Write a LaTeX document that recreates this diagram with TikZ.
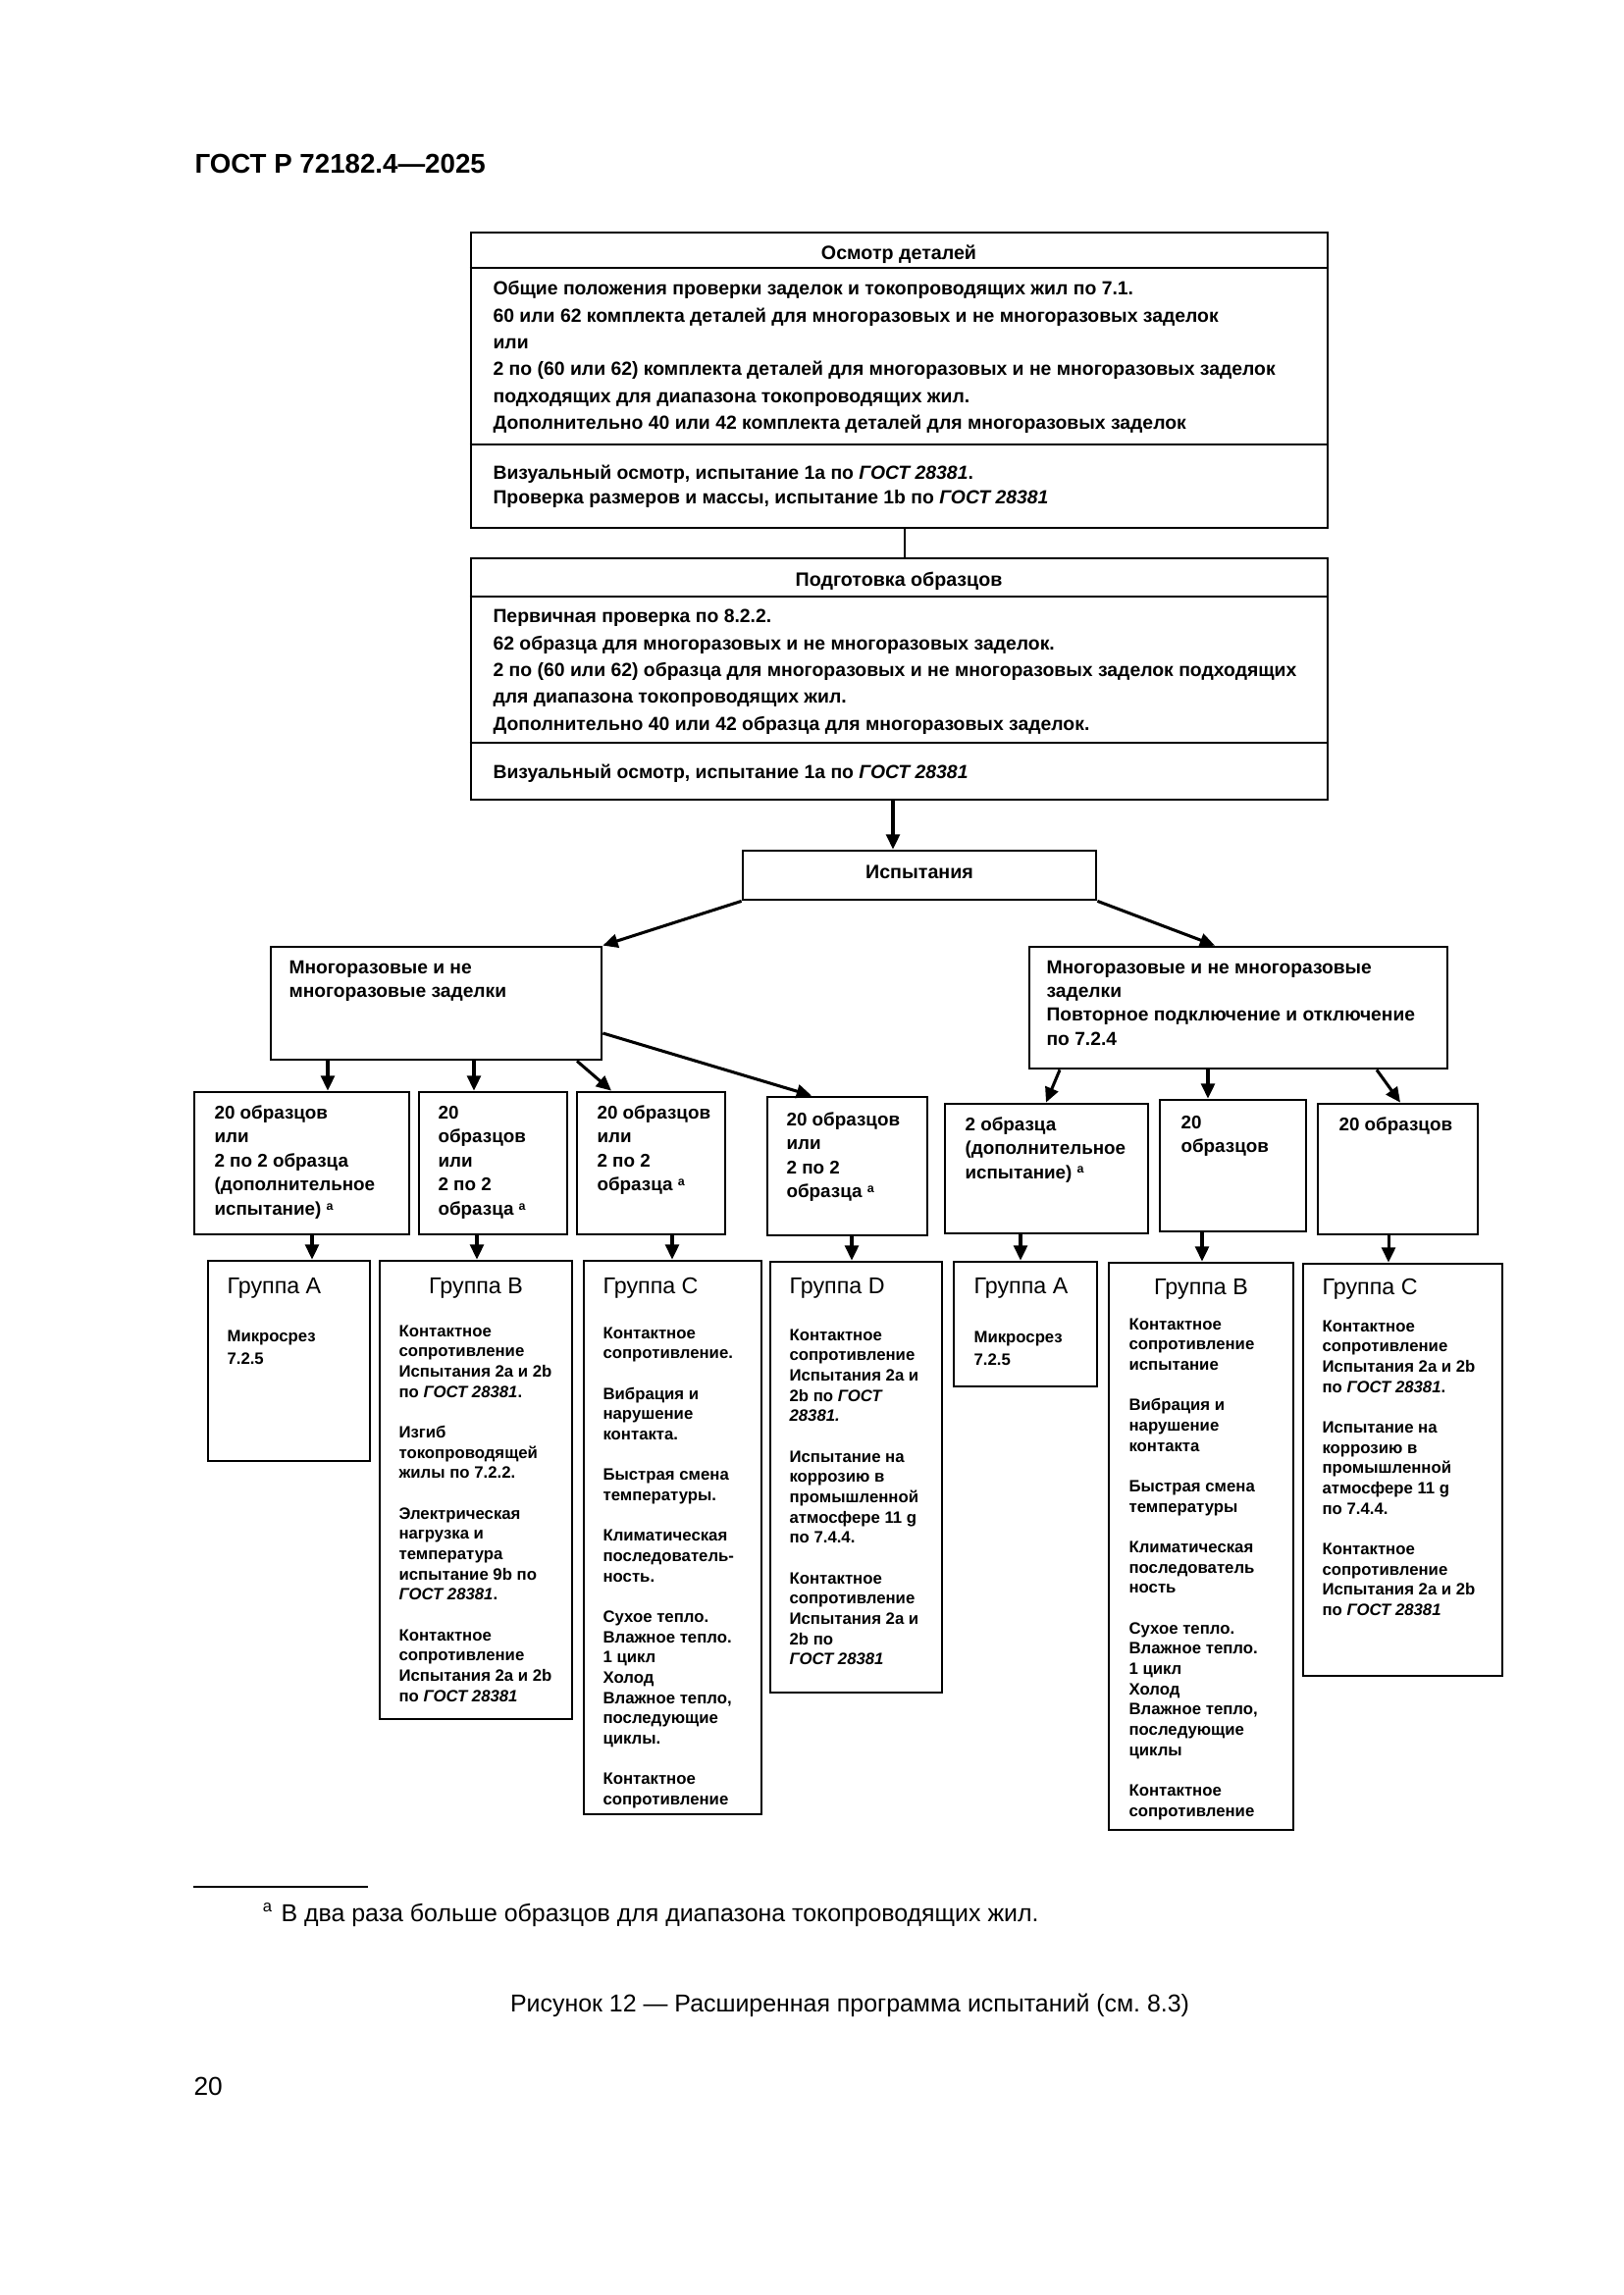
\documentclass[tikz,border=0pt]{standalone}
\usepackage{fontspec}
\setmainfont{Liberation Sans}
\usetikzlibrary{arrows.meta,fit}
\frenchspacing
\newcommand\tl[1]{\vtop{\halign{##\hfil\cr#1\crcr}}}
\newcommand\supa{\raisebox{0.55ex}{\fontsize{4.5}{5}\selectfont a}}
\newcommand\gost{\textit{ГОСТ 28381}}
\begin{document}
\begin{tikzpicture}[x=0.36121pt,y=-0.36121pt,
 box/.style={draw, line width=1pt, inner sep=0pt},
 ln/.style={line width=1pt},
 arr/.style={line width=1.1pt, -{Triangle[length=5.5pt,width=5pt]}},
 tt/.style={inner sep=0pt, anchor=base, font=\bfseries\fontsize{7.1}{8}\selectfont},
 tbody/.style={inner sep=0pt, anchor=base west, font=\bfseries\fontsize{7}{9.85}\selectfont},
 tsec/.style={inner sep=0pt, anchor=base west, font=\bfseries\fontsize{7}{8.9}\selectfont},
 tm/.style={inner sep=0pt, anchor=base west, font=\bfseries\fontsize{6.95}{8.8}\selectfont},
 ts/.style={inner sep=0pt, anchor=base west, font=\bfseries\fontsize{6.8}{8.9}\selectfont},
 gt/.style={inner sep=0pt, anchor=base west, font=\fontsize{8.4}{9}\selectfont},
 gtc/.style={gt, anchor=base},
 gb/.style={inner sep=0pt, anchor=base west, font=\bfseries\fontsize{6.05}{7.47}\selectfont},
 ga/.style={inner sep=0pt, anchor=base west, font=\bfseries\fontsize{6.05}{8.4}\selectfont},
 pg/.style={inner sep=0pt, anchor=base west, font=\fontsize{9}{11}\selectfont}
]
\useasboundingbox (0,0) rectangle (1654,2339);
\fill[white] (0,0) rectangle (1654,2339);

% page texts
\node[pg, font=\bfseries\fontsize{10}{12}\selectfont] (hdr) at (198,177) {ГОСТ Р 72182.4—2025};
\node[pg, font=\fontsize{9.5}{11}\selectfont] (pnum) at (197,2135) {20};
\node[pg, anchor=base] (cap) at (866,2050) {Рисунок 12 — Расширенная программа испытаний (см. 8.3)};
\node[pg] (fn) at (286,1958) {В два раза больше образцов для диапазона токопроводящих жил.};
\node[inner sep=0pt, anchor=base east, font=\fontsize{6}{7}\selectfont] (fna) at ([xshift=-3pt,yshift=3.3pt]fn.base west) {a};
\coordinate (fl1) at (197,1923);
\coordinate (fl2) at (375,1923);
\draw[line width=0.5pt] (fl1) -- (fl2);

% box 1
\node[box, fit={(480,237)(1353,538)}] (b1) {};
\draw[ln] (b1.west |- 0,273) -- (b1.east |- 0,273);
\draw[ln] (b1.west |- 0,453) -- (b1.east |- 0,453);
\node[tt] (b1t) at (916,265) {Осмотр деталей};
\node[tbody] (b1b) at (502,301) {\tl{Общие положения проверки заделок и токопроводящих жил по 7.1.\cr
60 или 62 комплекта деталей для многоразовых и не многоразовых заделок\cr
или\cr
2 по (60 или 62) комплекта деталей для многоразовых и не многоразовых заделок\cr
подходящих для диапазона токопроводящих жил.\cr
Дополнительно 40 или 42 комплекта деталей для многоразовых заделок}};
\node[tsec] (b1s) at (502,489) {\tl{Визуальный осмотр, испытание 1a по \gost.\cr
Проверка размеров и массы, испытание 1b по \gost}};

% box 2
\node[box, fit={(480,569)(1353,815)}] (b2) {};
\draw[ln] (b2.west |- 0,608) -- (b2.east |- 0,608);
\draw[ln] (b2.west |- 0,757) -- (b2.east |- 0,757);
\node[tt] (b2t) at (916,598) {Подготовка образцов};
\node[tbody] (b2b) at (502,635) {\tl{Первичная проверка по 8.2.2.\cr
62 образца для многоразовых и не многоразовых заделок.\cr
2 по (60 или 62) образца для многоразовых и не многоразовых заделок подходящих\cr
для диапазона токопроводящих жил.\cr
Дополнительно 40 или 42 образца для многоразовых заделок.}};
\node[tsec] (b2s) at (502,793) {\tl{Визуальный осмотр, испытание 1a по \gost}};

% tests
\node[box, fit={(757,867)(1117,917)}] (isp) {};
\node[tt] (ispt) at (937,895) {Испытания};

\node[box, fit={(276,965)(613,1080)}] (m1) {};
\node[tm] (m1t) at (294,992) {\tl{Многоразовые и не\cr многоразовые заделки}};
\node[box, fit={(1049,965)(1475,1089)}] (m2) {};
\node[tm] (m2t) at (1066,992) {\tl{Многоразовые и не многоразовые\cr заделки\cr Повторное подключение и отключение\cr по 7.2.4}};

% sample boxes
\node[box, fit={(198,1113)(417,1258)}] (s1) {};
\node[ts] (s1t) at (218,1140) {\tl{20 образцов\cr или\cr 2 по 2 образца\cr (дополнительное\cr испытание)~\supa}};
\node[box, fit={(427,1113)(578,1258)}] (s2) {};
\node[ts] (s2t) at (446,1140) {\tl{20\cr образцов\cr или\cr 2 по 2\cr образца~\supa}};
\node[box, fit={(588,1113)(739,1258)}] (s3) {};
\node[ts] (s3t) at (608,1140) {\tl{20 образцов\cr или\cr 2 по 2\cr образца~\supa}};
\node[box, fit={(782,1118)(945,1259)}] (s4) {};
\node[ts] (s4t) at (801,1147) {\tl{20 образцов\cr или\cr 2 по 2\cr образца~\supa}};
\node[box, fit={(963,1125)(1170,1257)}] (s5) {};
\node[ts] (s5t) at (983,1152) {\tl{2 образца\cr (дополнительное\cr испытание)~\supa}};
\node[box, fit={(1182,1121)(1331,1255)}] (s6) {};
\node[ts] (s6t) at (1203,1150) {\tl{20\cr образцов}};
\node[box, fit={(1343,1125)(1506,1258)}] (s7) {};
\node[ts] (s7t) at (1364,1152) {\tl{20 образцов}};

% groups
\node[box, fit={(212,1285)(377,1489)}] (ga1) {};
\node[gt] (ga1t) at (231,1318) {Группа A};
\node[ga] (ga1b) at (231,1367) {\tl{Микросрез\cr 7.2.5}};

\node[box, fit={(387,1285)(583,1752)}] (gb1) {};
\node[gtc] (gb1t) at (485,1318) {Группа B};
\node[gb] (gb1b) at (406,1362) {\tl{Контактное\cr сопротивление\cr Испытания 2a и 2b\cr по \gost.\cr\cr
Изгиб\cr токопроводящей\cr жилы по 7.2.2.\cr\cr
Электрическая\cr нагрузка и\cr температура\cr испытание 9b по\cr \gost.\cr\cr
Контактное\cr сопротивление\cr Испытания 2a и 2b\cr по \gost}};

\node[box, fit={(595,1285)(776,1849)}] (gc1) {};
\node[gt] (gc1t) at (614,1318) {Группа C};
\node[gb] (gc1b) at (614,1364) {\tl{Контактное\cr сопротивление.\cr\cr
Вибрация и\cr нарушение\cr контакта.\cr\cr
Быстрая смена\cr температуры.\cr\cr
Климатическая\cr последователь-\cr ность.\cr\cr
Сухое тепло.\cr Влажное тепло.\cr 1 цикл\cr Холод\cr Влажное тепло,\cr последующие\cr циклы.\cr\cr
Контактное\cr сопротивление}};

\node[box, fit={(785,1286)(960,1725)}] (gd1) {};
\node[gt] (gd1t) at (804,1318) {Группа D};
\node[gb] (gd1b) at (804,1366) {\tl{Контактное\cr сопротивление\cr Испытания 2a и\cr 2b по \textit{ГОСТ}\cr \textit{28381.}\cr\cr
Испытание на\cr коррозию в\cr промышленной\cr атмосфере 11 g\cr по 7.4.4.\cr\cr
Контактное\cr сопротивление\cr Испытания 2a и\cr 2b по\cr \gost}};

\node[box, fit={(972,1286)(1118,1413)}] (ga2) {};
\node[gt] (ga2t) at (992,1318) {Группа A};
\node[ga] (ga2b) at (992,1368) {\tl{Микросрез\cr 7.2.5}};

\node[box, fit={(1130,1287)(1318,1865)}] (gb2) {};
\node[gtc] (gb2t) at (1224,1319) {Группа B};
\node[gb] (gb2b) at (1150,1355) {\tl{Контактное\cr сопротивление\cr испытание\cr\cr
Вибрация и\cr нарушение\cr контакта\cr\cr
Быстрая смена\cr температуры\cr\cr
Климатическая\cr последователь\cr ность\cr\cr
Сухое тепло.\cr Влажное тепло.\cr 1 цикл\cr Холод\cr Влажное тепло,\cr последующие\cr циклы\cr\cr
Контактное\cr сопротивление}};

\node[box, fit={(1328,1288)(1531,1708)}] (gc2) {};
\node[gt] (gc2t) at (1347,1319) {Группа C};
\node[gb] (gc2b) at (1347,1357) {\tl{Контактное\cr сопротивление\cr Испытания 2a и 2b\cr по \gost.\cr\cr
Испытание на\cr коррозию в\cr промышленной\cr атмосфере 11 g\cr по 7.4.4.\cr\cr
Контактное\cr сопротивление\cr Испытания 2a и 2b\cr по \gost}};

% connectors
\coordinate (x12) at (922,0);
\coordinate (x2i) at (910,0);
\coordinate (xim2) at (1238,0);
\coordinate (xa1) at (334,0);
\coordinate (xa2) at (483,0);
\coordinate (xa3s) at (588,0);
\coordinate (xa3e) at (623,0);
\coordinate (ya4s) at (0,1053);
\coordinate (xa4e) at (827,0);
\coordinate (xa5s) at (1080,0);
\coordinate (xa5e) at (1066,0);
\coordinate (xa6) at (1231,0);
\coordinate (xa7s) at (1403,0);
\coordinate (xa7e) at (1427,0);
\coordinate (xg1) at (318,0);
\coordinate (xg2) at (486,0);
\coordinate (xg3) at (685,0);
\coordinate (xg4) at (868,0);
\coordinate (xg5) at (1040,0);
\coordinate (xg6) at (1225,0);
\coordinate (xg7) at (1415,0);

\draw[ln] (b1.south -| x12) -- (b2.north -| x12);
\draw[arr] (b2.south -| x2i) -- (isp.north -| x2i);
\draw[arr] (isp.south west) -- (m1.north east);
\draw[arr] (isp.south east) -- (m2.north -| xim2);
\draw[arr] (m1.south -| xa1) -- (s1.north -| xa1);
\draw[arr] (m1.south -| xa2) -- (s2.north -| xa2);
\draw[arr] (m1.south -| xa3s) -- (s3.north -| xa3e);
\draw[arr] (m1.east |- ya4s) -- (s4.north -| xa4e);
\draw[arr] (m2.south -| xa5s) -- (s5.north -| xa5e);
\draw[arr] (m2.south -| xa6) -- (s6.north -| xa6);
\draw[arr] (m2.south -| xa7s) -- (s7.north -| xa7e);
\draw[arr] (s1.south -| xg1) -- (ga1.north -| xg1);
\draw[arr] (s2.south -| xg2) -- (gb1.north -| xg2);
\draw[arr] (s3.south -| xg3) -- (gc1.north -| xg3);
\draw[arr] (s4.south -| xg4) -- (gd1.north -| xg4);
\draw[arr] (s5.south -| xg5) -- (ga2.north -| xg5);
\draw[arr] (s6.south -| xg6) -- (gb2.north -| xg6);
\draw[arr] (s7.south -| xg7) -- (gc2.north -| xg7);
\end{tikzpicture}
\end{document}
